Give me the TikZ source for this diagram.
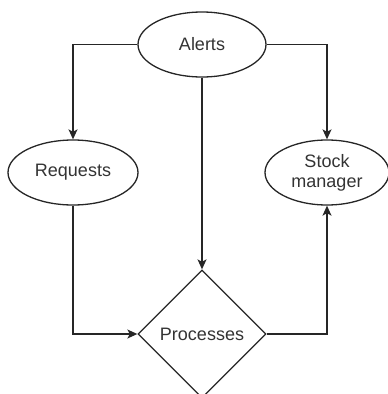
\documentclass[tikz,border=0pt]{standalone}
\usepackage{fontspec}
\setmainfont{Liberation Sans}
\usetikzlibrary{shapes.geometric,arrows.meta}
\begin{document}
\begin{tikzpicture}[x=1pt,y=-1pt,
  every node/.style={font=\fontsize{18}{21}\selectfont, text=black!80, draw=black!85, line width=1.3pt, inner sep=0pt},
  oval/.style={ellipse, minimum width=128pt, minimum height=65pt},
  decision/.style={diamond, minimum width=128pt, minimum height=128pt, aspect=1},
  flow/.style={draw=black!85, line width=1.3pt, -{Stealth[length=10pt,width=9pt,inset=2.5pt]}}]
  \useasboundingbox (0,0) rectangle (388,394);
  \clip (0,0) rectangle (388,394);
  \node[oval] (alerts) at (202,44.5) {Alerts};
  \node[oval, minimum width=130pt] (req) at (73,172.5) {Requests};
  \node[oval, minimum width=124pt, align=center] (stock) at (327,172.5) {Stock\\[-1pt]manager};
  \node[decision] (proc) at (202,334) {Processes};
  \draw[flow] (alerts.west) -| (req.north);
  \draw[flow] (alerts.east) -| (stock.north);
  \draw[flow] (alerts.south) -- (proc.north);
  \draw[flow] (req.south) |- (proc.west);
  \draw[flow] (proc.east) -| (stock.south);
\end{tikzpicture}
\end{document}
